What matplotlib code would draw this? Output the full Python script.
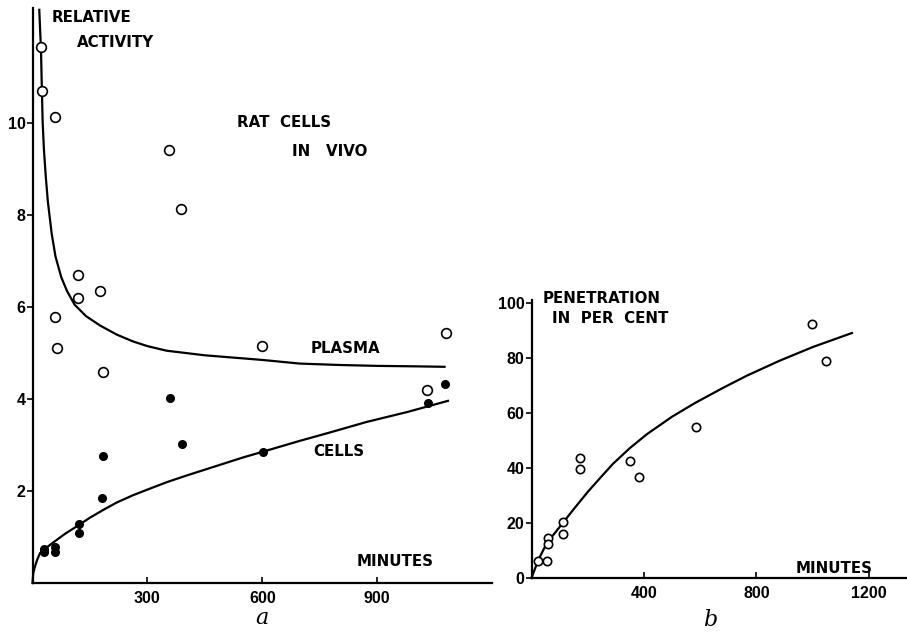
import matplotlib
matplotlib.use("Agg")
import matplotlib.pyplot as plt

# ---------------- data: panel a (relative activity, rat cells in vivo) ----------------
plasma_t = [22, 24, 58, 60, 63, 118, 119, 177, 183, 356, 389, 599, 1030, 1079]
plasma_v = [11.65, 10.7, 10.12, 5.78, 5.10, 6.70, 6.20, 6.35, 4.58, 9.41, 8.13, 5.15, 4.20, 5.43]

cells_t = [30, 30, 59, 59, 121, 121, 183, 182, 360, 390, 601, 1032, 1077]
cells_v = [0.75, 0.67, 0.79, 0.67, 1.28, 1.08, 2.76, 1.84, 4.02, 3.02, 2.85, 3.91, 4.33]

plasma_curve_t = [17.7, 20, 22, 24, 26.6, 30, 35, 40, 50, 60, 75, 90, 110, 140, 176,
                  220, 263, 300, 350, 450, 599, 698, 800, 899, 1000, 1076]
plasma_curve_v = [12.46, 12.0, 11.65, 10.9, 10.0, 9.4, 8.8, 8.3, 7.6, 7.1, 6.65, 6.35,
                  6.05, 5.8, 5.6, 5.4, 5.25, 5.15, 5.05, 4.95, 4.85, 4.77, 4.74, 4.72,
                  4.71, 4.70]

cells_curve_t = [0, 2, 6.5, 12, 19.6, 35, 54, 85, 121, 150, 185, 220, 263, 300, 350,
                 400, 475, 550, 600, 698, 780, 872, 980, 1085]
cells_curve_v = [0, 0.22, 0.36, 0.5, 0.65, 0.76, 0.88, 1.07, 1.26, 1.42, 1.59, 1.75,
                 1.91, 2.03, 2.19, 2.33, 2.53, 2.73, 2.85, 3.09, 3.28, 3.50, 3.72, 3.96]

a_yticks = [2, 4, 6, 8, 10]
a_xticks = [300, 600, 900]

# ---------------- data: panel b (penetration in per cent) ----------------
pen_t = [24, 54, 58, 58, 113, 113, 174, 174, 352, 382, 584, 997, 1048]
pen_v = [6.0, 6.0, 14.4, 12.2, 20.2, 16.0, 43.5, 39.5, 42.5, 36.6, 55.0, 92.4, 79.0]

pen_curve_t = [0, 24, 54, 113, 150, 202, 250, 290, 350, 410, 500, 582, 680, 766,
               884, 1003, 1140]
pen_curve_v = [0, 6.5, 12.6, 20.2, 25.0, 31.5, 37.0, 41.5, 47.2, 52.2, 58.6, 63.6,
               69.0, 73.5, 79.0, 84.0, 89.0]

b_yticks = [0, 20, 40, 60, 80, 100]
b_xticks = [400, 800, 1200]

# ---------------- figure ----------------
W, H = 907, 635
fig = plt.figure(figsize=(W / 100, H / 100), dpi=100)

def rect(l, r, b, t):
    return [l / W, (H - b) / H, (r - l) / W, (b - t) / H]

ax_a = fig.add_axes(rect(32.5, 492, 583, 8))
ax_b = fig.add_axes(rect(531.5, 907, 578, 300))

letter = dict(family="DejaVu Sans", weight="bold", size=10.8, color="black")
tickfont = dict(family="Liberation Sans", weight="bold", size=11.5)

for ax in (ax_a, ax_b):
    for s in ("top", "right"):
        ax.spines[s].set_visible(False)
    for s in ("left", "bottom"):
        ax.spines[s].set_linewidth(1.6)
    ax.tick_params(axis="y", direction="out", length=4, width=1.2, pad=1)
    ax.tick_params(axis="x", direction="in", length=4, width=1.2, pad=6)

# panel a
ax_a.set_xlim(0, 1200)
ax_a.set_ylim(0, 12.5)
ax_a.plot(plasma_curve_t, plasma_curve_v, color="black", lw=1.6, clip_on=False,
          solid_joinstyle="round")
ax_a.plot(cells_curve_t, cells_curve_v, color="black", lw=1.6, clip_on=False,
          solid_joinstyle="round")
ax_a.plot(plasma_t, plasma_v, "o", mfc="white", mec="black", mew=1.2, ms=7, clip_on=False)
ax_a.plot(cells_t, cells_v, "o", mfc="black", mec="black", ms=5.5, clip_on=False)
ax_a.set_yticks(a_yticks)
ax_a.set_yticklabels([str(v) for v in a_yticks], **tickfont)
ax_a.set_xticks(a_xticks)
ax_a.set_xticklabels([str(v) for v in a_xticks], **tickfont)

ax_a.text(51, 12.3, "RELATIVE", va="center", ha="left", **letter)
ax_a.text(116, 11.76, "ACTIVITY", va="center", ha="left", **letter)
ax_a.text(533, 10.02, "RAT  CELLS", va="center", ha="left", **letter)
ax_a.text(677, 9.37, "IN   VIVO", va="center", ha="left", **letter)
ax_a.text(727, 5.09, "PLASMA", va="center", ha="left", **letter)
ax_a.text(732, 2.85, "CELLS", va="center", ha="left", **letter)
ax_a.text(847, 0.46, "MINUTES", va="center", ha="left", **letter)
ax_a.text(599, -0.75, "a", va="center", ha="center", family="DejaVu Serif",
          style="italic", size=16, clip_on=False)

# panel b
ax_b.set_xlim(0, 1336)
ax_b.set_ylim(0, 101)
ax_b.plot(pen_curve_t, pen_curve_v, color="black", lw=1.6, clip_on=False,
          solid_joinstyle="round")
ax_b.plot(pen_t, pen_v, "o", mfc="white", mec="black", mew=1.2, ms=6, clip_on=False)
ax_b.set_yticks(b_yticks)
ax_b.set_yticklabels([str(v) for v in b_yticks], **tickfont)
ax_b.set_xticks(b_xticks)
ax_b.set_xticklabels([str(v) for v in b_xticks], **tickfont)

ax_b.text(41, 101.5, "PENETRATION", va="center", ha="left", **letter)
ax_b.text(73, 94.2, "IN  PER  CENT", va="center", ha="left", **letter)
ax_b.text(938, 3.3, "MINUTES", va="center", ha="left", **letter)
ax_b.text(635, -15.3, "b", va="center", ha="center", family="DejaVu Serif",
          style="italic", size=16, clip_on=False)

fig.savefig("out.png", dpi=100, facecolor="white")
